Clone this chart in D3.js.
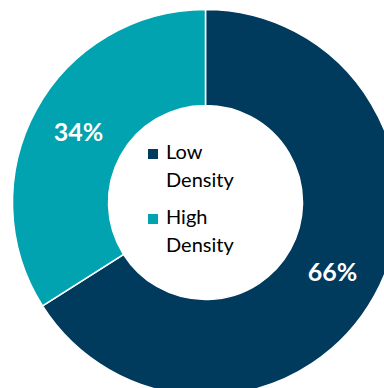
<!DOCTYPE html>
<html>
<head>
<meta charset="utf-8">
<script src="https://cdn.jsdelivr.net/npm/d3@7"></script>
<style>
  html, body { margin: 0; padding: 0; background: #ffffff; }
  svg { display: block; }
</style>
</head>
<body>
<svg id="chart" width="384" height="388"></svg>
<script>
// Share of land area by development density
const categories = ["Low Density", "High Density"];
const shares = [66, 34];
const colors = ["#003A5D", "#00A3AF"];
const legendLines = [["Low", "Density"], ["High", "Density"]];

const svg = d3.select("#chart");
const cx = 205.5, cy = 202.5;
const outerR = 193, innerR = 97;

const pie = d3.pie().sort(null).value(d => d.value);
const arcs = pie(categories.map((c, i) => ({ name: c, value: shares[i], color: colors[i] })));

const arc = d3.arc().innerRadius(innerR).outerRadius(outerR);
const labelArc = d3.arc().innerRadius(145).outerRadius(145);

const g = svg.append("g").attr("transform", `translate(${cx},${cy})`);

g.selectAll("path.slice")
  .data(arcs)
  .join("path")
  .attr("class", "slice")
  .attr("d", arc)
  .attr("fill", d => d.data.color)
  .attr("stroke", "#ffffff")
  .attr("stroke-width", 1.5);

g.selectAll("text.pct")
  .data(arcs)
  .join("text")
  .attr("class", "pct")
  .attr("transform", d => `translate(${labelArc.centroid(d)})`)
  .attr("text-anchor", "middle")
  .attr("dy", "0.34em")
  .attr("fill", "#ffffff")
  .attr("font-family", "Lato, 'Open Sans', sans-serif")
  .attr("font-weight", "bold")
  .attr("font-size", 25)
  .text(d => d.data.value + "%");

// Legend in the donut hole
const legend = svg.append("g").attr("transform", "translate(148,148)");
const item = legend.selectAll("g.item")
  .data(categories)
  .join("g")
  .attr("class", "item")
  .attr("transform", (d, i) => `translate(0,${i * 65})`);

item.append("rect")
  .attr("x", 0).attr("y", 1)
  .attr("width", 10).attr("height", 10)
  .attr("fill", (d, i) => colors[i]);

item.each(function(d, i) {
  const t = d3.select(this).append("text")
    .attr("fill", "#000000")
    .attr("font-family", "Lato, 'Open Sans', sans-serif")
    .attr("font-size", 20);
  legendLines[i].forEach((line, j) => {
    t.append("tspan").attr("x", 18).attr("y", 11 + j * 28).text(line);
  });
});
</script>
</body>
</html>
